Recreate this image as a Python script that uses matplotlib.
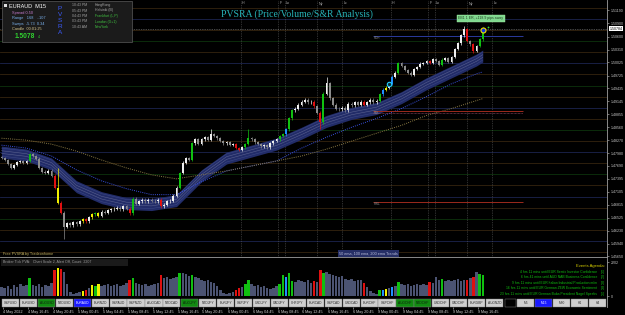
import numpy as np
import matplotlib.pyplot as plt
from matplotlib.patches import Rectangle

W, H = 625, 315
plt.rcParams['font.family'] = ['Liberation Sans', 'DejaVu Sans']

# ---------------- data ----------------
CLOSES = [
    1.4787, 1.4782, 1.4773, 1.4764, 1.4771, 1.4778, 1.4780, 1.4776, 1.4780, 1.4796,
    1.4791, 1.4785, 1.4764, 1.4756, 1.4753, 1.4758, 1.4747, 1.4720, 1.4686, 1.4664,
    1.4631, 1.4640, 1.4635, 1.4642, 1.4637, 1.4644, 1.4649, 1.4644, 1.4653, 1.4660,
    1.4662, 1.4657, 1.4666, 1.4664, 1.4669, 1.4671, 1.4673, 1.4675, 1.4671, 1.4678,
    1.4673, 1.4662, 1.4695, 1.4684, 1.4689, 1.4693, 1.4689, 1.4693, 1.4691, 1.4689,
    1.4693, 1.4678, 1.4682, 1.4689, 1.4691, 1.4702, 1.4720, 1.4753, 1.4776, 1.4787,
    1.4782, 1.4820, 1.4829, 1.4818, 1.4829, 1.4834, 1.4827, 1.4840, 1.4836, 1.4831,
    1.4825, 1.4820, 1.4822, 1.4816, 1.4818, 1.4809, 1.4805, 1.4811, 1.4818, 1.4831,
    1.4829, 1.4822, 1.4818, 1.4813, 1.4816, 1.4811, 1.4820, 1.4825, 1.4829, 1.4836,
    1.4840, 1.4851, 1.4876, 1.4894, 1.4898, 1.4907, 1.4914, 1.4918, 1.4912, 1.4914,
    1.4903, 1.4889, 1.4867, 1.4932, 1.4956, 1.4921, 1.4907, 1.4898, 1.4896, 1.4900,
    1.4894, 1.4909, 1.4905, 1.4912, 1.4907, 1.4914, 1.4907, 1.4912, 1.4918, 1.4912,
    1.4916, 1.4930, 1.4941, 1.4945, 1.4954, 1.4970, 1.4979, 1.5001, 1.4994, 1.4985,
    1.4979, 1.4974, 1.4987, 1.4992, 1.4999, 1.5001, 1.5005, 1.5001, 1.5010, 1.5005,
    1.4996, 1.5008, 1.5012, 1.5003, 1.5014, 1.5032, 1.5045, 1.5063, 1.5077, 1.5050,
    1.5043, 1.5028, 1.5039, 1.5054, 1.5078,
]
FIRST_OPEN = 1.4789
WICK_HIGH = {18: 1.4764, 67: 1.4851, 79: 1.4851, 104: 1.4970, 148: 1.5083}
WICK_LOW = {20: 1.4604, 102: 1.4853, 151: 1.5024}

# n = normal, r = climax bear, g = climax bull, b = rising bull, y = yellow
BAR_KIND = ("nnnnnnnnng" "nnnnnnnryr" "nnnnnnyrny" "gynnnnnnnn" "nrgnnnnnnn"
            "nrnnnnngnn" "ngnnnnnnnn" "nnnnnrrngg" "nnnnnnnnng" "gbggnnnnnn"
            "rnrgnnnnnn" "nnnnnnrnnn" "ngbynbngnn" "nnnnnnnrnn" "ngnnnnnnnr"
            "nrngg")

VOLUMES = [
    585, 520, 650, 455, 715, 585, 780, 650, 715, 1170,
    715, 650, 780, 585, 715, 650, 845, 1690, 1820, 1750,
    1560, 780, 260, 130, 195, 260, 325, 390, 520, 715,
    650, 780, 650, 715, 780, 650, 715, 780, 650, 715,
    845, 1040, 1170, 845, 780, 715, 780, 650, 715, 780,
    845, 1365, 1170, 1235, 1105, 1170, 1235, 1495, 1495, 1430,
    1300, 1365, 1235, 1170, 1040, 975, 1040, 910, 845, 650,
    390, 195, 130, 195, 260, 390, 520, 585, 780, 1040,
    780, 650, 715, 585, 650, 520, 455, 520, 650, 780,
    1365, 1235, 1495, 975, 910, 1040, 975, 910, 1040, 845,
    975, 910, 1690, 1495, 1560, 1430, 1365, 1300, 1235, 1300,
    1105, 1040, 1105, 975, 1040, 1040, 845, 585, 325, 195,
    130, 390, 390, 455, 520, 585, 650, 910, 780, 715,
    780, 650, 715, 780, 715, 780, 715, 910, 845, 1235,
    1040, 1105, 975, 1040, 975, 1040, 1105, 975, 1040, 1040,
    1170, 1235, 1560, 1430, 1365,
]

EMA_IDX = [0, 8, 16, 24, 32, 40, 48, 56, 64, 72, 80, 88, 96, 104, 112, 120, 128, 136, 144, 152, 154]
EMA50 = [1.48001, 1.47934, 1.47733, 1.47221, 1.46975, 1.46842, 1.46819, 1.46908, 1.47466, 1.47867,
         1.48023, 1.48180, 1.48425, 1.48692, 1.48871, 1.48982, 1.49228, 1.49540, 1.49807, 1.50075, 1.50164]
EMA100 = [1.48157, 1.48090, 1.47912, 1.47600, 1.47354, 1.47176, 1.47042, 1.47042, 1.47332, 1.47577,
          1.47689, 1.47800, 1.48090, 1.48336, 1.48559, 1.48759, 1.48982, 1.49250, 1.49540, 1.49763, 1.49807]
EMA200 = [1.48313, 1.48269, 1.48180, 1.48023, 1.47823, 1.47644, 1.47488, 1.47399, 1.47488, 1.47577,
          1.47689, 1.47800, 1.47912, 1.48068, 1.48246, 1.48425, 1.48603, 1.48826, 1.48982, 1.49161, 1.49205]

PRICE_TICKS = [1.51190, 1.50900, 1.50600, 1.50310, 1.50025, 1.49725, 1.49435, 1.49145, 1.48855,
               1.48560, 1.48270, 1.47980, 1.47690, 1.47395, 1.47105, 1.46815, 1.46525, 1.46230,
               1.45940, 1.45650]
BID = 1.50784

SESSION_POS = [76.6, 88.5, 90.7, 101.0, 109.0, 124.6, 136.5, 138.7, 149.0, 157.0]
SESSION_LBL = ["H", "F", "Lo", "Ny", "Lc", "H", "F", "Lo", "Ny", "Lc"]

LEVEL_PRICES = [1.50615, 1.48926, 1.48878, 1.46876]
LEVEL_NAMES = ["RDH", "RDL", "", "RWL"]

TIME_LABELS = ["4 May 2022", "4 May 16:45", "4 May 20:45", "5 May 00:45", "5 May 04:45",
               "5 May 08:45", "5 May 12:45", "5 May 16:45", "5 May 20:45", "6 May 00:45",
               "6 May 04:45", "6 May 08:45", "6 May 12:45", "6 May 16:45", "6 May 20:45",
               "9 May 00:45", "9 May 04:45", "9 May 08:45", "9 May 12:45", "9 May 16:45"]

PAIRS = ["GBPUSD", "EURUSD", "AUDUSD", "NZDUSD", "EURAUD", "EURNZD", "GBPAUD", "GBPNZD",
         "AUDCAD", "NZDCAD", "AUDJPY", "NZDJPY", "EURJPY", "GBPJPY", "USDJPY", "CADJPY",
         "CHFJPY", "EURCAD", "GBPCAD", "USDCAD", "EURCHF", "GBPCHF", "AUDCHF", "NZDCHF",
         "USDCHF", "CADCHF", "EURGBP", "AUDNZD"]
PAIRS_GREEN = ["AUDUSD", "AUDJPY", "AUDCHF", "NZDCHF"]
PAIR_ACTIVE = "EURAUD"
TIMEFRAMES = ["M5", "M15", "M30", "H1", "H4"]
TF_ACTIVE = "M15"

EVENTS = ["4 hrs 11 mins until EUR Sentix Investor Confidence",
          "6 hrs 41 mins until AUD NAB Business Confidence",
          "9 hrs 11 mins until EUR Italian Industrial Production m/m",
          "16 hrs 11 mins until EUR German ZEW Economic Sentiment",
          "23 hrs 11 mins until EUR German Buba President Nagel Speaks"]

CLOCKS = ["10:43 PM", "05:43 PM", "04:43 PM", "03:43 PM", "10:43 AM"]
CITIES = ["HongKong", "Helsinki (B)", "Frankfurt (L,P)", "London (G+1)", "NewYork"]

# ---------------- figure ----------------
fig = plt.figure(figsize=(W / 100, H / 100), dpi=100, facecolor="black")


def box(x0, y0, x1, y1):
    return [x0 / W, 1 - y1 / H, (x1 - x0) / W, (y1 - y0) / H]


def ftext(x, y, s, **kw):
    kw.setdefault("va", "center")
    return fig.text(x / W, 1 - y / H, s, **kw)


def frect(x0, y0, x1, y1, **kw):
    fig.patches.append(Rectangle((x0 / W, 1 - y1 / H), (x1 - x0) / W, (y1 - y0) / H,
                                 transform=fig.transFigure, figure=fig, **kw))


XLIM = (-0.48, 193.76)
n = len(CLOSES)
x = np.arange(n)

ax = fig.add_axes(box(0, 0, 607, 257))
ax.set_facecolor("black")
ax.set_xlim(*XLIM)
ax.set_ylim(1.45638, 1.51426)
for s in ["top", "left"]:
    ax.spines[s].set_visible(False)
ax.spines["right"].set_color("#a0a0a0")
ax.spines["bottom"].set_color("#a0a0a0")
ax.spines["right"].set_linewidth(0.6)
ax.spines["bottom"].set_linewidth(0.6)
ax.set_xticks([])
ax.yaxis.tick_right()
ax.set_yticks(PRICE_TICKS)
ax.set_yticklabels([f"{v:.5f}" for v in PRICE_TICKS])
ax.tick_params(axis="y", colors="#c8c8c8", labelsize=2.6, length=1.5, width=0.4, pad=1)

# round number levels
for lv in np.arange(1.4575, 1.5126, 0.0025):
    pips = int(round(lv * 10000)) % 100
    col = "#1c2450" if pips == 0 else ("#0d330d" if pips == 50 else "#35250f")
    ax.axhline(lv, color=col, lw=0.6, zorder=0)

# session lines
for pos, lbl in zip(SESSION_POS, SESSION_LBL):
    ax.axvline(pos, color="#5c5c5c", lw=0.5, ls=(0, (1, 1.5)), zorder=1)
    ax.text(pos + 0.4, 1 - 3.5 / 257, lbl, transform=ax.get_xaxis_transform(),
            color="#a8a8a8", fontsize=2.6, va="center", ha="left")

# bid line
ax.axhline(BID, color="#8c8c8c", lw=0.5, ls=(0, (1, 1.5)), zorder=1)

# EMA band and trend lines
e50 = np.array(EMA50)
half = 0.00135
ax.fill_between(EMA_IDX, e50 - half, e50 + half, color="#222c68", lw=0, zorder=2)
for off, c in [(-0.0009, "#3a4684"), (-0.0003, "#59608e"), (0.0003, "#59608e"), (0.0009, "#3a4684")]:
    ax.plot(EMA_IDX, e50 + off, color=c, lw=0.4, zorder=2)
ax.plot(EMA_IDX, EMA100, color="#3a52e0", lw=0.7, ls=(0, (1, 1.2)), zorder=2)
ax.plot(EMA_IDX, EMA200, color="#8a7a44", lw=0.7, ls=(0, (1, 1.2)), zorder=2)

# candles
KIND_COL = {"r": "#e01010", "g": "#10c010", "b": "#2090ff", "y": "#f0f000"}
opens = [FIRST_OPEN] + CLOSES[:-1]
cols, lo_b, hgt, hi_w, lo_w = [], [], [], [], []
for i in range(n):
    o, c = opens[i], CLOSES[i]
    k = BAR_KIND[i]
    if k == "n":
        cols.append("#eeeeee" if c >= o else "#8c8c8c")
    else:
        cols.append(KIND_COL[k])
    b0, b1 = min(o, c), max(o, c)
    lo_b.append(b0)
    hgt.append(max(b1 - b0, 0.00012))
    hi_w.append(WICK_HIGH.get(i, b1 + 0.0003))
    lo_w.append(WICK_LOW.get(i, b0 - 0.0003))
ax.vlines(x, lo_w, hi_w, colors=cols, lw=0.5, zorder=3)
ax.bar(x, hgt, bottom=lo_b, width=0.62, color=cols, lw=0, zorder=3)

# support / resistance levels
for p, nm in zip(LEVEL_PRICES, LEVEL_NAMES):
    if nm == "RDH":
        ax.hlines(p, 118.9, 166.9, color="#2b3a9c", lw=0.7, zorder=2)
    elif nm == "":
        ax.hlines(p, 118.9, 166.9, color="#a05070", lw=0.5, ls=(0, (1, 1)), zorder=2)
    else:
        ax.hlines(p, 118.9, 166.9, color="#9c2a1c", lw=0.7, zorder=2)
    if nm:
        ax.text(119.2, p - 0.0004, nm, color="#909090", fontsize=2.2, va="center", ha="left")

# signal markers
ax.plot([124], [CLOSES[124]], "o", ms=3.2, mfc="#0a2a3a", mec="#20d0ff", mew=0.8, zorder=4)
ax.plot([n - 1], [CLOSES[-1] - 0.0002], "o", ms=3.6, mfc="#1030e0", mec="#f0e000", mew=0.8, zorder=4)
ax.plot([n + 0.6], [CLOSES[-1] + 0.0004], "o", ms=1.3, mfc="#30e030", mec="none", zorder=4)

# bid tag
ax.text(1.004, BID, f"{BID:.5f}", transform=ax.get_yaxis_transform(), fontsize=2.6,
        color="black", va="center", ha="left",
        bbox=dict(boxstyle="square,pad=0.15", fc="white", ec="white", lw=0))

# ---------------- volume pane ----------------
axv = fig.add_axes(box(0, 258, 607, 307))
axv.set_facecolor("black")
axv.set_xlim(*XLIM)
axv.set_ylim(-715, 2470)
for s in ["top", "left", "bottom"]:
    axv.spines[s].set_visible(False)
axv.spines["right"].set_color("#a0a0a0")
axv.spines["right"].set_linewidth(0.6)
vcols = ["#4b5372" if k == "n" else KIND_COL[k] for k in BAR_KIND]
axv.bar(x, VOLUMES, width=0.8, color=vcols, lw=0)
axv.yaxis.tick_right()
axv.set_yticks([0, 2202])
axv.set_yticklabels(["0", "2202"])
axv.tick_params(axis="y", colors="#c8c8c8", labelsize=2.6, length=1.5, width=0.4, pad=1)
tick_pos = [0.32 + 8 * k for k in range(len(TIME_LABELS))]
axv.set_xticks(tick_pos)
axv.set_xticklabels(TIME_LABELS)
for t in axv.get_xticklabels():
    t.set_ha("left")
axv.tick_params(axis="x", colors="#d0d0d0", labelsize=2.7, length=1.5, width=0.4, pad=0.8)

# ---------------- overlays ----------------
# title
ftext(297, 14, "PVSRA (Price/Volume/S&R Analysis)", family=["Liberation Serif", "DejaVu Serif"],
      fontsize=7, color="#27b3b8", ha="center")

# info panel
frect(2, 1, 132, 42, fc="#1b1b1b", ec="#5a5a5a", lw=0.5)
frect(3.5, 3.5, 6.5, 6.5, fc="#e0e0e0", ec="none")
ftext(9, 6, "EURAUD  M15", fontsize=4, color="white")
ftext(12, 13, "Spread 0.50", fontsize=2.8, color="#c87cd0")
ftext(12, 18, "Range   168   ..107", fontsize=2.8, color="#7cb4f0")
ftext(12, 23.5, "Swaps  -5.73  0.34", fontsize=2.8, color="#7cb4f0")
ftext(12, 29, "Candle  00:01:25", fontsize=2.8, color="#d8c890")
ftext(15, 36.5, "1.5078", fontsize=4.8, color="#30d030", fontweight="bold")
ftext(38, 37.5, "4", fontsize=2.6, color="#30d030")
for j, ch in enumerate("PVSRA"):
    ftext(60, 9 + 6 * j, ch, fontsize=4.6, color="#3c5cff", ha="center")
city_cols = ["#a8a8a8", "#a8a8a8", "#40c040", "#40c040", "#40c040"]
for j, (tm, city) in enumerate(zip(CLOCKS, CITIES)):
    ftext(72, 5 + 5.5 * j, tm, fontsize=2.5, color="#a0a0a0")
    ftext(95, 5 + 5.5 * j, city, fontsize=2.5, color=city_cols[j])

# distance label
ftext(481, 18.5, "EB1 1 ER, +118.9 pips away", fontsize=2.5, color="#204020", ha="center",
      bbox=dict(boxstyle="square,pad=0.3", fc="#80d890", ec="#a0f0a0", lw=0.3))

# footer texts of main chart
ftext(3, 253.5, "Free PVSRA by Tradeonhome", fontsize=2.7, color="#c0b060")
ftext(368, 253.5, "50 ema, 100 ema, 200 ema Trends", fontsize=2.7, color="#b8bcd8", ha="center",
      bbox=dict(boxstyle="square,pad=0.3", fc="#262f66", ec="none"))

# volume header
frect(1, 258.5, 128, 266, fc="#1a1a1a", ec="none")
ftext(3, 262, "Broker Tick PVA:   Chart Scale 2, Alert Off, Count  2207", fontsize=2.6, color="#9a9a9a")

# events agenda
ftext(605, 266, "Events Agenda:", fontsize=3, color="#d8d000", ha="right")
for j, ev in enumerate(EVENTS):
    ftext(597, 272 + 5.4 * j, ev, fontsize=2.4, color="#10c010", ha="right")
    ftext(601, 272 + 5.4 * j, f"[{j + 1}]", fontsize=2.4, color="#10c010", ha="left")

# pair buttons
bw = (504 - 2) / len(PAIRS)
for j, p in enumerate(PAIRS):
    x0 = 2 + j * bw
    if p == PAIR_ACTIVE:
        fc, tc = "#1a1aff", "white"
    elif p in PAIRS_GREEN:
        fc, tc = "#118a11", "#102010"
    else:
        fc, tc = "#cfcfcf", "#303030"
    frect(x0, 299, x0 + bw - 0.8, 306.5, fc=fc, ec="#808080", lw=0.3)
    ftext(x0 + bw / 2 - 0.4, 302.8, p, fontsize=2.3, color=tc, ha="center")
frect(505, 299, 516, 306.5, fc="black", ec="#909090", lw=0.3)
tw = (607 - 517) / len(TIMEFRAMES)
for j, tf in enumerate(TIMEFRAMES):
    x0 = 517 + j * tw
    fc, tc = ("#1a1aff", "white") if tf == TF_ACTIVE else ("#cfcfcf", "#303030")
    frect(x0, 299, x0 + tw - 0.8, 306.5, fc=fc, ec="#808080", lw=0.3)
    ftext(x0 + tw / 2, 302.8, tf, fontsize=2.3, color=tc, ha="center")

fig.savefig("out.png", dpi=100, facecolor="black")
